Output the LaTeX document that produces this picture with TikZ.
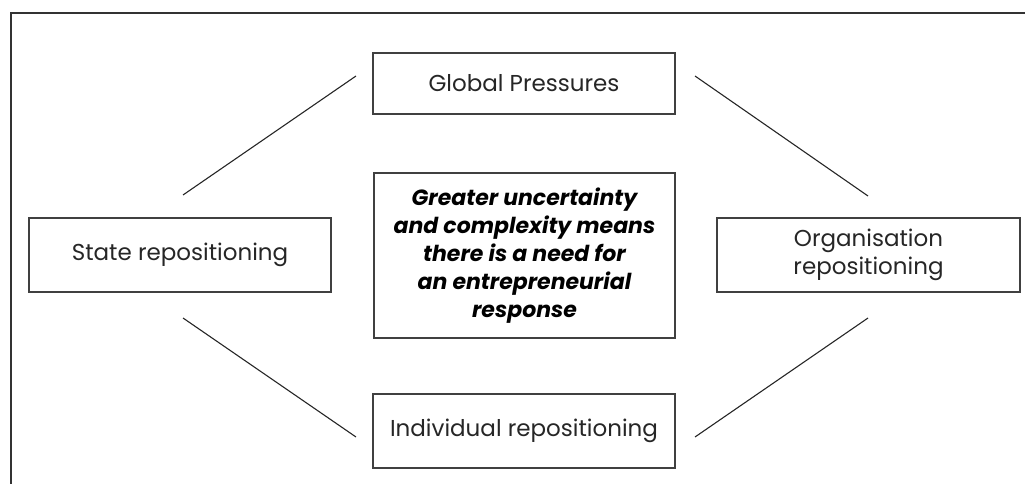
\documentclass[tikz,border=0pt]{standalone}
\usepackage{fontspec}
\setmainfont{Poppins}
\begin{document}
\begin{tikzpicture}[x=1pt,y=-1pt,
  box/.style={draw=black!75, line width=1.3pt, rectangle, inner sep=0pt,
    align=center, text=black!85, font=\fontsize{23}{28}\selectfont},
  link/.style={draw=black!85, line width=1.1pt},
  frame/.style={draw=black!80, line width=2pt}]
  \useasboundingbox (0,0) rectangle (1025,484);
  % open frame: top and left edges only
  \coordinate (fbl) at (11,484);
  \coordinate (ftl) at (11,13.5);
  \coordinate (ftr) at (1025,13.5);
  \draw[frame] (fbl) -- (ftl) -- (ftr);

  % boxes
  \node[box, minimum width=302, minimum height=61] (gp) at (524,83.5) {Global Pressures};
  \node[box, minimum width=301, minimum height=165, text=black,
        font=\fontsize{22}{28}\selectfont\bfseries\itshape] (ctr) at (524.5,255.5)
        {Greater uncertainty\\and complexity means\\there is a need for\\an entrepreneurial\\response};
  \node[box, minimum width=302, minimum height=74] (st) at (180,255) {State repositioning};
  \node[box, minimum width=303, minimum height=74] (org) at (868.5,255) {Organisation\\repositioning};
  \node[box, minimum width=302, minimum height=74] (ind) at (524,431) {Individual repositioning};

  % free-standing connecting strokes
  \coordinate (ul1) at (183,195);  \coordinate (ul2) at (356,76);
  \coordinate (ur1) at (695,76);   \coordinate (ur2) at (868,196);
  \coordinate (ll1) at (183,318);  \coordinate (ll2) at (356,437);
  \coordinate (lr1) at (695,437);  \coordinate (lr2) at (868,318);
  \draw[link] (ul1) -- (ul2);
  \draw[link] (ur1) -- (ur2);
  \draw[link] (ll1) -- (ll2);
  \draw[link] (lr1) -- (lr2);
\end{tikzpicture}
\end{document}
